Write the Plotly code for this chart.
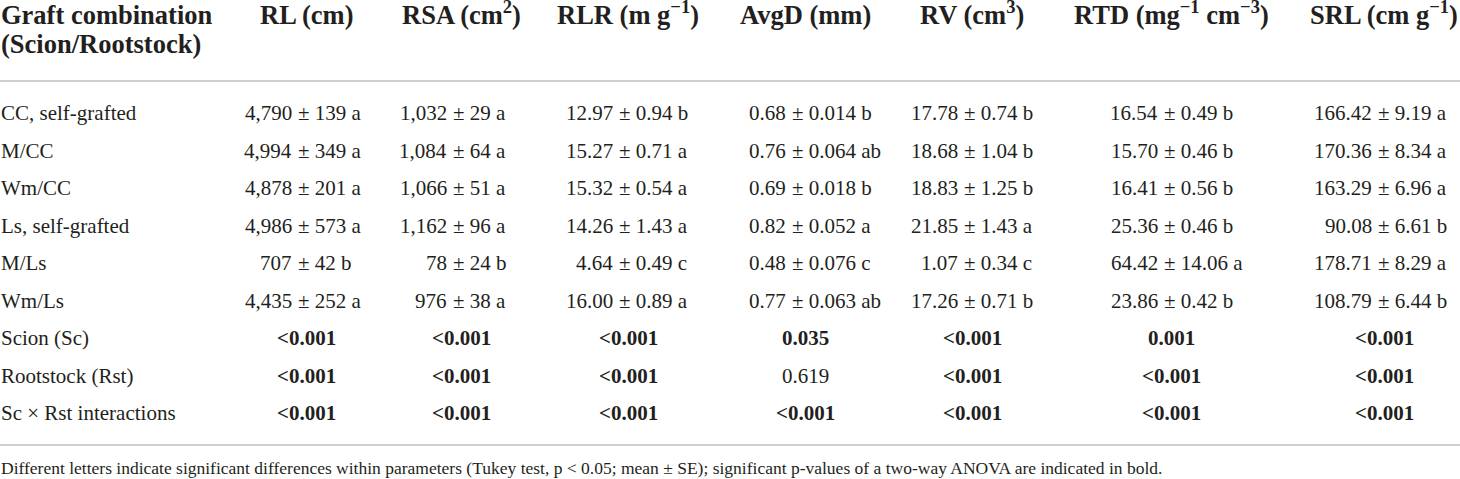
import plotly.graph_objects as go

# table content
row_labels = ["CC, self-grafted", "M/CC", "Wm/CC", "Ls, self-grafted", "M/Ls", "Wm/Ls"]
stat_labels = ["Scion (Sc)", "Rootstock (Rst)", "Sc \u00d7 Rst interactions"]

col_headers = ["RL (cm)", "RSA (cm<sup>2</sup>)", "RLR (m g<sup>\u22121</sup>)", "AvgD (mm)",
               "RV (cm<sup>3</sup>)", "RTD (mg<sup>\u22121</sup> cm<sup>\u22123</sup>)",
               "SRL (cm g<sup>\u22121</sup>)"]

RL = ["4,790 \u00b1 139 a", "4,994 \u00b1 349 a", "4,878 \u00b1 201 a", "4,986 \u00b1 573 a",
      "707 \u00b1 42 b", "4,435 \u00b1 252 a"]
RSA = ["1,032 \u00b1 29 a", "1,084 \u00b1 64 a", "1,066 \u00b1 51 a", "1,162 \u00b1 96 a",
       "78 \u00b1 24 b", "976 \u00b1 38 a"]
RLR = ["12.97 \u00b1 0.94 b", "15.27 \u00b1 0.71 a", "15.32 \u00b1 0.54 a", "14.26 \u00b1 1.43 a",
       "4.64 \u00b1 0.49 c", "16.00 \u00b1 0.89 a"]
AvgD = ["0.68 \u00b1 0.014 b", "0.76 \u00b1 0.064 ab", "0.69 \u00b1 0.018 b", "0.82 \u00b1 0.052 a",
        "0.48 \u00b1 0.076 c", "0.77 \u00b1 0.063 ab"]
RV = ["17.78 \u00b1 0.74 b", "18.68 \u00b1 1.04 b", "18.83 \u00b1 1.25 b", "21.85 \u00b1 1.43 a",
      "1.07 \u00b1 0.34 c", "17.26 \u00b1 0.71 b"]
RTD = ["16.54 \u00b1 0.49 b", "15.70 \u00b1 0.46 b", "16.41 \u00b1 0.56 b", "25.36 \u00b1 0.46 b",
       "64.42 \u00b1 14.06 a", "23.86 \u00b1 0.42 b"]
SRL = ["166.42 \u00b1 9.19 a", "170.36 \u00b1 8.34 a", "163.29 \u00b1 6.96 a", "90.08 \u00b1 6.61 b",
       "178.71 \u00b1 8.29 a", "108.79 \u00b1 6.44 b"]

p_scion = ["<0.001", "<0.001", "<0.001", "0.035", "<0.001", "0.001", "<0.001"]
p_rootstock = ["<0.001", "<0.001", "<0.001", "0.619", "<0.001", "<0.001", "<0.001"]
p_interaction = ["<0.001", "<0.001", "<0.001", "<0.001", "<0.001", "<0.001", "<0.001"]

footnote = ("Different letters indicate significant differences within parameters "
            "(Tukey test, p < 0.05; mean \u00b1 SE); significant p-values of a two-way "
            "ANOVA are indicated in bold.")

# layout (pixel positions)
col_center = [306, 461, 628, 805, 972, 1171, 1384]
col_pm = [306, 461, 627, 800, 972, 1172, 1386]
row_y0, row_dy = 113, 37.5
txt = "#231f20"
FONT = "Liberation Serif"

columns = [RL, RSA, RLR, AvgD, RV, RTD, SRL]
p_rows = [p_scion, p_rootstock, p_interaction]

fig = go.Figure()
ann = []

def add(x, y, text, size=21, bold=False, anchor="center", yanchor="middle"):
    if bold:
        text = "<b>" + text + "</b>"
    ann.append(dict(x=x, y=y, text=text, showarrow=False, xanchor=anchor, yanchor=yanchor,
                    borderpad=0, font=dict(family=FONT, size=size, color=txt)))

# header
add(0, 31, "Graft combination", size=26.5, bold=True, anchor="left", yanchor="bottom")
add(0, 44, "(Scion/Rootstock)", size=26.5, bold=True, anchor="left")
for xc, h in zip(col_center, col_headers):
    add(xc, 31, h, size=26.5, bold=True, yanchor="bottom")

# rows with mean +- SE, aligned on the +- sign
for i, lab in enumerate(row_labels):
    y = row_y0 + i * row_dy
    add(0, y, lab, anchor="left")
    for xp, col in zip(col_pm, columns):
        left, right = col[i].split(" \u00b1 ")
        add(xp - 13, y, left, anchor="right")
        add(xp - 9, y, "\u00b1 " + right, anchor="left")

# p-value rows
for j, lab in enumerate(stat_labels):
    y = row_y0 + (len(row_labels) + j) * row_dy
    add(0, y, lab, anchor="left")
    for xc, p in zip(col_center, p_rows[j]):
        sig = float(p.lstrip("<")) < 0.05
        add(xc, y, p, bold=sig)

add(0, 468, footnote, size=17.5, anchor="left")

fig.update_layout(
    width=1460, height=479,
    margin=dict(l=0, r=0, t=0, b=0),
    paper_bgcolor="white", plot_bgcolor="white",
    xaxis=dict(range=[0, 1460], visible=False, fixedrange=True),
    yaxis=dict(range=[479, 0], visible=False, fixedrange=True),
    annotations=ann,
    shapes=[
        dict(type="line", xref="x", yref="y", x0=0, x1=1460, y0=81, y1=81,
             line=dict(color="#cfcfcf", width=2)),
        dict(type="line", xref="x", yref="y", x0=0, x1=1460, y0=445, y1=445,
             line=dict(color="#cfcfcf", width=2)),
    ],
    showlegend=False,
)

# drop the default page margin so the table sits at the window's corner
fig.write_html("out.html", config={"displayModeBar": False, "staticPlot": True},
               post_script="document.body.style.margin='0';")
